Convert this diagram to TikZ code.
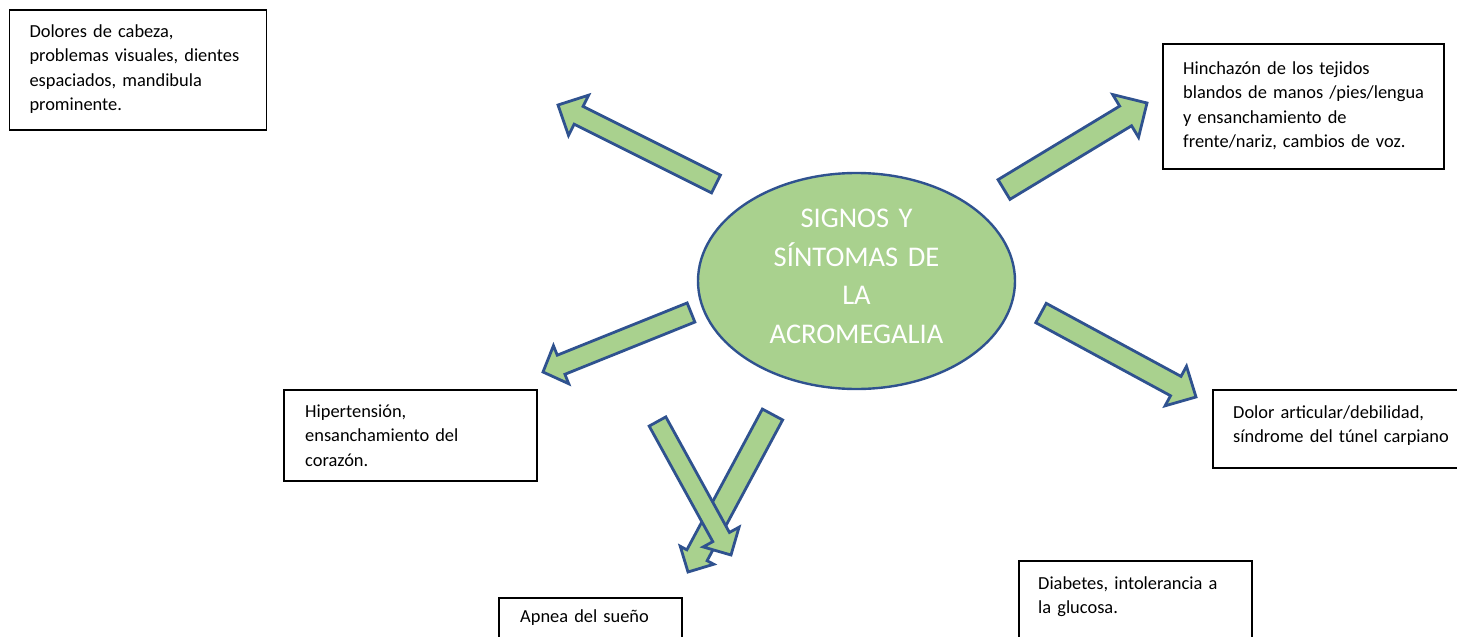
\documentclass[tikz,border=0pt]{standalone}
\usepackage{fontspec}
\setmainfont{Carlito}
\usetikzlibrary{calc,shapes.geometric}
\definecolor{leaf}{HTML}{A9D18E}
\definecolor{edgeblue}{HTML}{2F528F}
\tikzset{
  barrow/.style={draw=edgeblue, fill=leaf, line width=2.8pt, line join=miter},
  txtbox/.style={draw=black, line width=1.5pt, fill=white, inner sep=0pt, anchor=north west},
  txt/.style={font=\fontsize{18.4}{24.5}\selectfont, text width=300pt, align=left, inner sep=0pt, anchor=base west},
  core/.style={ellipse, draw=edgeblue, line width=2.4pt, fill=leaf, inner sep=0pt, minimum width=317pt, minimum height=216pt},
  coretxt/.style={font=\fontsize{28.5}{38.7}\selectfont, text=white, text width=260pt, align=center, inner sep=0pt, anchor=base}
}
% #1 tail, #2 tip, #3 half shaft width, #4 half head width, #5 head length
\newcommand{\blockarrow}[5]{%
  \path ($(#2)!#5!(#1)$) coordinate (hb);
  \draw[barrow] ($(#1)!#3!90:(#2)$) -- ($(hb)!#3!90:(#2)$) -- ($(hb)!#4!90:(#2)$) -- (#2)
    -- ($(hb)!#4!-90:(#2)$) -- ($(hb)!#3!-90:(#2)$) -- ($(#1)!#3!-90:(#2)$) -- cycle;}
\begin{document}
\begin{tikzpicture}[x=1pt,y=-1pt]
\useasboundingbox (0,0) rectangle (1457,637);
\clip (0,0) rectangle (1457,637);

% central ellipse
\node[core] (c) at (856.5,281) {};
\node[coretxt] (ct) at ($(c.center)+(0,-53.7)$) {SIGNOS Y\\SÍNTOMAS DE\\LA\\ACROMEGALIA};

% arrows
\coordinate (a1t) at (716,184);   \coordinate (a1h) at (558,105);
\coordinate (a2t) at (1004,189.5);\coordinate (a2h) at (1147,103);
\coordinate (a3t) at (691,312.5); \coordinate (a3h) at (543,372);
\coordinate (a4t) at (1041,313);  \coordinate (a4h) at (1196,397);
\coordinate (a5t) at (772.5,414.5);\coordinate (a5h) at (688,572);
\coordinate (a6t) at (657.5,421.5);\coordinate (a6h) at (731,555);
\blockarrow{a1t}{a1h}{10pt}{22.5pt}{23pt}
\blockarrow{a2t}{a2h}{11.5pt}{25pt}{25pt}
\blockarrow{a3t}{a3h}{10.3pt}{20.5pt}{19.5pt}
\blockarrow{a4t}{a4h}{11pt}{22.5pt}{23pt}
\blockarrow{a5t}{a5h}{11.5pt}{19pt}{19pt}
\blockarrow{a6t}{a6h}{9.5pt}{20.5pt}{20.5pt}

% text boxes
\node[txtbox, minimum width=257pt, minimum height=120pt] (b1) at (8.7,9) {};
\node[txt] (t1) at ($(b1.north west)+(20.6,28)$) {Dolores de cabeza,\\problemas visuales, dientes\\espaciados, mandibula\\prominente.};

\node[txtbox, minimum width=281pt, minimum height=125pt] (b2) at (1162,43) {};
\node[txt] (t2) at ($(b2.north west)+(21,31)$) {Hinchazón de los tejidos\\blandos de manos /pies/lengua\\y ensanchamiento de\\frente/nariz, cambios de voz.};

\node[txtbox, minimum width=253pt, minimum height=91pt] (b3) at (283,389) {};
\node[txt] (t3) at ($(b3.north west)+(22,28)$) {Hipertensión,\\ensanchamiento del\\corazón.};

\node[txtbox, minimum width=260pt, minimum height=78pt] (b4) at (1212,389) {};
\node[txt] (t4) at ($(b4.north west)+(21,29)$) {Dolor articular/debilidad,\\síndrome del túnel carpiano};

\node[txtbox, minimum width=233pt, minimum height=90pt] (b5) at (1018,560) {};
\node[txt] (t5) at ($(b5.north west)+(20,29)$) {Diabetes, intolerancia a\\la glucosa.};

\node[txtbox, minimum width=183pt, minimum height=60pt] (b6) at (498,597) {};
\node[txt] (t6) at ($(b6.north west)+(22,25)$) {Apnea del sueño};
\end{tikzpicture}
\end{document}
